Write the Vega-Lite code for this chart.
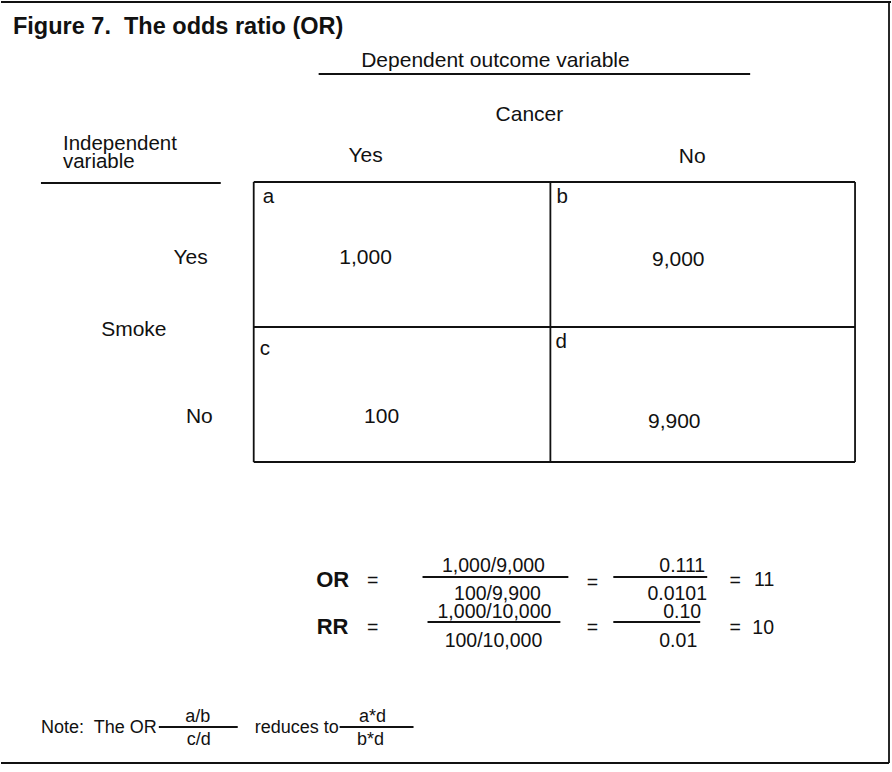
{
  "$schema": "https://vega.github.io/schema/vega-lite/v6.json",
  "width": 892,
  "height": 772,
  "padding": 0,
  "autosize": {"type": "fit", "contains": "padding"},
  "background": "#ffffff",
  "config": {"view": {"stroke": null}, "text": {"font": "Liberation Sans", "color": "#111111"}},
  "datasets": {
    "lines": [
      {"x": 0, "x2": 891, "y": 2, "y2": 2},
      {"x": 889, "x2": 889, "y": 2, "y2": 763},
      {"x": 0, "x2": 889, "y": 763, "y2": 763},
      {"x": 318, "x2": 750, "y": 74, "y2": 74},
      {"x": 40, "x2": 220, "y": 183, "y2": 183},
      {"x": 253, "x2": 855, "y": 182, "y2": 182},
      {"x": 253, "x2": 855, "y": 327, "y2": 327},
      {"x": 253, "x2": 855, "y": 462, "y2": 462},
      {"x": 253, "x2": 253, "y": 182, "y2": 462},
      {"x": 550, "x2": 550, "y": 182, "y2": 462},
      {"x": 855, "x2": 855, "y": 182, "y2": 462},
      {"x": 422, "x2": 568, "y": 577, "y2": 577},
      {"x": 613, "x2": 707, "y": 577, "y2": 577},
      {"x": 427, "x2": 560, "y": 622, "y2": 622},
      {"x": 613, "x2": 700, "y": 622, "y2": 622},
      {"x": 158, "x2": 237, "y": 727, "y2": 727},
      {"x": 339, "x2": 413, "y": 727, "y2": 727}
    ],
    "title": [
      {"x": 12, "y": 27, "label": "Figure 7.\u00a0 The odds ratio (OR)"}
    ],
    "leftText": [
      {"x": 62, "y": 144, "label": "Independent"},
      {"x": 62, "y": 162, "label": "variable"},
      {"x": 262, "y": 197, "label": "a"},
      {"x": 556, "y": 197, "label": "b"},
      {"x": 259, "y": 349, "label": "c"},
      {"x": 555, "y": 342, "label": "d"}
    ],
    "noteText": [
      {"x": 40, "y": 728, "label": "Note:\u00a0 The OR"},
      {"x": 254, "y": 728, "label": "reduces to"}
    ],
    "noteFrac": [
      {"x": 197, "y": 717, "label": "a/b"},
      {"x": 198, "y": 740, "label": "c/d"},
      {"x": 372, "y": 717, "label": "a*d"},
      {"x": 370, "y": 740, "label": "b*d"}
    ],
    "centerText": [
      {"x": 495, "y": 61, "label": "Dependent outcome variable"},
      {"x": 529, "y": 115, "label": "Cancer"},
      {"x": 365, "y": 156, "label": "Yes"},
      {"x": 692, "y": 157, "label": "No"},
      {"x": 133, "y": 330, "label": "Smoke"},
      {"x": 365, "y": 258, "label": "1,000"},
      {"x": 678, "y": 260, "label": "9,000"},
      {"x": 381, "y": 417, "label": "100"},
      {"x": 674, "y": 422, "label": "9,900"}
    ],
    "rightText": [
      {"x": 207, "y": 258, "label": "Yes"},
      {"x": 212, "y": 417, "label": "No"}
    ],
    "formulaText": [
      {"x": 372, "y": 581, "label": "="},
      {"x": 493, "y": 566, "label": "1,000/9,000"},
      {"x": 497, "y": 594, "label": "100/9,900"},
      {"x": 592, "y": 583, "label": "="},
      {"x": 682, "y": 566, "label": "0.111"},
      {"x": 677, "y": 594, "label": "0.0101"},
      {"x": 735, "y": 581, "label": "="},
      {"x": 764, "y": 580, "label": "11"},
      {"x": 372, "y": 628, "label": "="},
      {"x": 494, "y": 612, "label": "1,000/10,000"},
      {"x": 493, "y": 641, "label": "100/10,000"},
      {"x": 592, "y": 628, "label": "="},
      {"x": 682, "y": 612, "label": "0.10"},
      {"x": 678, "y": 641, "label": "0.01"},
      {"x": 735, "y": 628, "label": "="},
      {"x": 763, "y": 628, "label": "10"}
    ],
    "boldText": [
      {"x": 332, "y": 580, "label": "OR"},
      {"x": 332, "y": 627, "label": "RR"}
    ]
  },
  "encoding": {
    "x": {"field": "x", "type": "quantitative", "scale": {"domain": [0, 892], "nice": false, "zero": false}, "axis": null},
    "y": {"field": "y", "type": "quantitative", "scale": {"domain": [0, 772], "nice": false, "zero": false, "reverse": true}, "axis": null}
  },
  "layer": [
    {
      "data": {"name": "lines"},
      "mark": {"type": "rule", "stroke": "#111111", "strokeWidth": 1.8},
      "encoding": {
        "x2": {"field": "x2"},
        "y2": {"field": "y2"}
      }
    },
    {
      "data": {"name": "title"},
      "mark": {"type": "text", "align": "left", "baseline": "middle", "fontSize": 23.5, "fontWeight": "bold"},
      "encoding": {"text": {"field": "label"}}
    },
    {
      "data": {"name": "leftText"},
      "mark": {"type": "text", "align": "left", "baseline": "middle", "fontSize": 20.5},
      "encoding": {"text": {"field": "label"}}
    },
    {
      "data": {"name": "noteText"},
      "mark": {"type": "text", "align": "left", "baseline": "middle", "fontSize": 18},
      "encoding": {"text": {"field": "label"}}
    },
    {
      "data": {"name": "noteFrac"},
      "mark": {"type": "text", "align": "center", "baseline": "middle", "fontSize": 18},
      "encoding": {"text": {"field": "label"}}
    },
    {
      "data": {"name": "centerText"},
      "mark": {"type": "text", "align": "center", "baseline": "middle", "fontSize": 21},
      "encoding": {"text": {"field": "label"}}
    },
    {
      "data": {"name": "rightText"},
      "mark": {"type": "text", "align": "right", "baseline": "middle", "fontSize": 21},
      "encoding": {"text": {"field": "label"}}
    },
    {
      "data": {"name": "formulaText"},
      "mark": {"type": "text", "align": "center", "baseline": "middle", "fontSize": 19.5},
      "encoding": {"text": {"field": "label"}}
    },
    {
      "data": {"name": "boldText"},
      "mark": {"type": "text", "align": "center", "baseline": "middle", "fontSize": 22, "fontWeight": "bold"},
      "encoding": {"text": {"field": "label"}}
    }
  ]
}
